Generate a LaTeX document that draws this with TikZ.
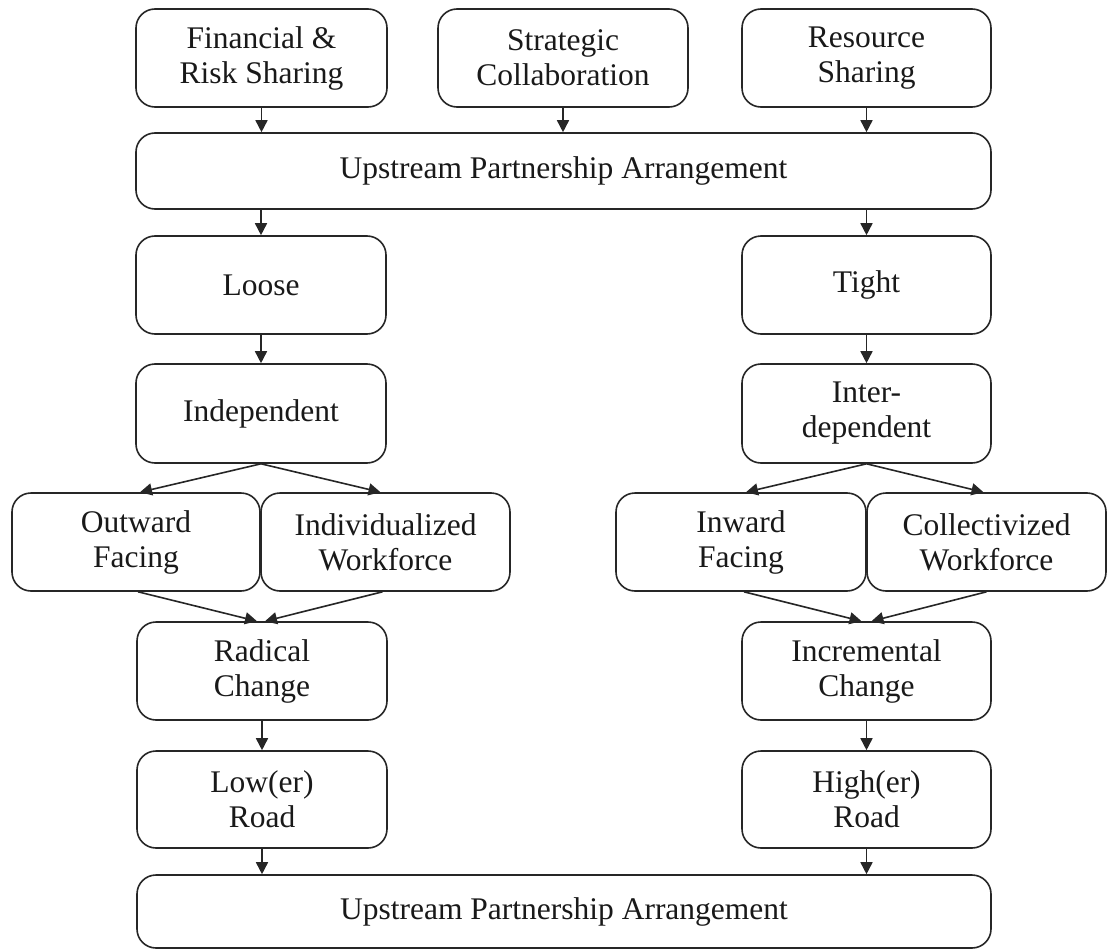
\documentclass[tikz,border=0pt]{standalone}
\usepackage{fontspec}
\setmainfont{Liberation Serif}
\usetikzlibrary{arrows.meta,calc}
\begin{document}
\begin{tikzpicture}[x=1pt,y=-1pt,
  box/.style={draw=black!85, line width=1.6pt, rounded corners=19pt, align=center, inner sep=0pt,
    font=\fontsize{31.5}{35}\selectfont, text=black!90},
  arr/.style={draw=black!85, line width=1.6pt, -{Triangle[length=12pt,width=12pt]}}]
\useasboundingbox (0,0) rectangle (1109,950);
% top row
\node[box, minimum width=251pt, minimum height=98pt] (fin) at (261.5,58) {Financial \&\\Risk Sharing};
\node[box, minimum width=250pt, minimum height=98pt] (strat) at (563,58) {Strategic\\Collaboration};
\node[box, minimum width=249pt, minimum height=98pt] (res) at (866.5,58) {Resource\\Sharing};
\node[box, minimum width=855pt, minimum height=76pt] (up1) at (563.5,171) {Upstream Partnership Arrangement};
% columns
\node[box, minimum width=250pt, minimum height=98pt] (loose) at (261,285) {Loose};
\node[box, minimum width=249pt, minimum height=98pt] (tight) at (866.5,285) {Tight};
\node[box, minimum width=250pt, minimum height=99pt] (indep) at (261,413.5) {Independent};
\node[box, minimum width=249pt, minimum height=99pt] (inter) at (866.5,413.5) {Inter-\\dependent};
\node[box, minimum width=248pt, minimum height=98pt] (out) at (136,542) {Outward\\Facing};
\node[box, minimum width=249pt, minimum height=98pt] (indiv) at (385.5,542) {Individualized\\Workforce};
\node[box, minimum width=250pt, minimum height=98pt] (inw) at (741,542) {Inward\\Facing};
\node[box, minimum width=239pt, minimum height=98pt] (coll) at (986.5,542) {Collectivized\\Workforce};
\node[box, minimum width=250pt, minimum height=98pt] (rad) at (262,671) {Radical\\Change};
\node[box, minimum width=249pt, minimum height=98pt] (inc) at (866.5,671) {Incremental\\Change};
\node[box, minimum width=250pt, minimum height=97pt] (low) at (262,799.5) {Low(er)\\Road};
\node[box, minimum width=249pt, minimum height=97pt] (high) at (866.5,799.5) {High(er)\\Road};
\node[box, minimum width=854pt, minimum height=73pt] (up2) at (564,911.5) {Upstream Partnership Arrangement};
% connectors
\draw[arr] (fin.south) -- (fin.south |- up1.north);
\draw[arr] (strat.south) -- (strat.south |- up1.north);
\draw[arr] (res.south) -- (res.south |- up1.north);
\draw[arr] (loose.north |- up1.south) -- (loose.north);
\draw[arr] (tight.north |- up1.south) -- (tight.north);
\draw[arr] (loose.south) -- (indep.north);
\draw[arr] (tight.south) -- (inter.north);
\draw[arr] (indep.south) -- ([xshift=4pt]out.north);
\draw[arr] (indep.south) -- ([xshift=-5pt]indiv.north);
\draw[arr] (inter.south) -- ([xshift=5pt]inw.north);
\draw[arr] (inter.south) -- ([xshift=-3pt]coll.north);
\draw[arr] ([xshift=2pt]out.south) -- ([xshift=-5pt]rad.north);
\draw[arr] ([xshift=-3pt]indiv.south) -- ([xshift=3pt]rad.north);
\draw[arr] ([xshift=3pt]inw.south) -- ([xshift=-5pt]inc.north);
\draw[arr] ([xshift=0pt]coll.south) -- ([xshift=5pt]inc.north);
\draw[arr] (rad.south) -- (low.north);
\draw[arr] (inc.south) -- (high.north);
\draw[arr] (low.south) -- (low.south |- up2.north);
\draw[arr] (high.south) -- (high.south |- up2.north);
\end{tikzpicture}
\end{document}
